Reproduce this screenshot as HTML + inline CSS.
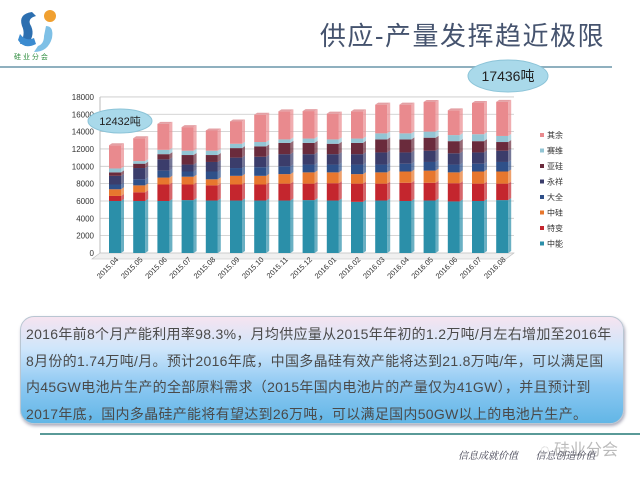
<!DOCTYPE html>
<html><head><meta charset="utf-8"><style>
body{margin:0;width:640px;height:479px;background:#fff;overflow:hidden;position:relative;font-family:"Liberation Sans","Noto Sans CJK SC",sans-serif}
.title{position:absolute;left:300px;top:16px;width:305px;text-align:right;font-size:26px;color:#45536e;letter-spacing:1.5px}
.hl{position:absolute;left:0;top:66px;width:612px;height:2px;background:#8fb0bf}
.box{position:absolute;left:20px;top:316px;width:604px;height:108px;border-radius:14px;border:1px solid #b9c6d2;background:linear-gradient(#f6e4f0 0%,#cfe6fb 30%,#8cc8f2 65%,#62b6e6 100%);box-shadow:1px 2px 3px #aab;font-size:14px;color:#4a4a4a;line-height:26.5px;padding:4px 0 0 5px;box-sizing:border-box;letter-spacing:0.3px;white-space:nowrap}
.bl{position:absolute;left:40px;top:433px;width:600px;height:2px;background:#5a9a98}
.ft{position:absolute;left:458px;top:447px;font-size:10px;color:#445;font-family:"Liberation Serif","Noto Serif CJK SC",serif;font-style:italic}
.wm{position:absolute;left:540px;top:436px;font-size:16px;color:#bbb}
</style></head><body>
<svg width="60" height="60" style="position:absolute;left:10px;top:4px">
<path d="M22 8 Q8 10 12 22 Q16 30 10 40 L18 40 Q26 30 20 20 Q18 14 26 12 Z" fill="#2c6fb0"/>
<path d="M8 36 Q14 46 26 40 L24 34 Q16 38 10 30 Z" fill="#3b8bd0"/>
<circle cx="40" cy="12" r="6" fill="#f0a030"/>
<path d="M36 22 Q44 22 42 34 Q38 48 24 48 L28 42 Q34 40 34 32 Z" fill="#7ec0e6"/>
<text x="4" y="55" font-size="7" fill="#2a8a3a">硅 业 分 会</text>
</svg>
<div class="title">供应-产量发挥趋近极限</div>
<div class="hl"></div>
<svg width="640" height="300" style="position:absolute;left:0;top:0" id="c"></svg>
<div class="box">2016年前8个月产能利用率98.3%，月均供应量从2015年年初的1.2万吨/月左右增加至2016年<br>8月份的1.74万吨/月。预计2016年底，中国多晶硅有效产能将达到21.8万吨/年，可以满足国<br>内45GW电池片生产的全部原料需求（2015年国内电池片的产量仅为41GW），并且预计到<br>2017年底，国内多晶硅产能将有望达到26万吨，可以满足国内50GW以上的电池片生产。</div>
<div class="bl"></div>
<div class="wm">◌ 硅业分会</div>
<div class="ft">信息成就价值 &nbsp; &nbsp; &nbsp; 信息创造价值</div>
<script>
var d=[[6000,6580,7350,7900,8900,9300,9750,12432],[6000,7000,7800,8500,9800,10300,10600,13240],[6000,7900,8700,9500,10800,11400,11900,14900],[6100,7900,8800,9400,10200,11300,11800,14520],[6050,7800,8500,9400,10500,11300,11800,14130],[6050,7900,8900,9800,11000,12100,12600,15170],[6050,7900,8900,9900,11100,12300,12800,15950],[6050,8000,9100,10000,11400,12700,13100,16340],[6100,8000,9300,10200,11400,12700,13200,16370],[6050,8050,9300,10200,11400,12600,13100,16070],[5900,8000,9100,10200,11400,12700,13200,16340],[6050,8000,9300,10200,11600,13100,13800,17110],[6000,8100,9400,10300,11600,13100,13800,17110],[6050,8100,9500,10500,11800,13300,14000,17420],[5950,8050,9300,10200,11500,12900,13600,16450],[6000,8000,9400,10300,11600,12900,13700,17300],[6100,8000,9400,10500,11800,12800,13500,17436]];
var col=["#2b8fa9","#c4262e","#e7772e","#2f5089","#3b3d6b","#6a2b3c","#93c5d4","#e98a8e"];
var lab=["2015.04","2015.05","2015.06","2015.07","2015.08","2015.09","2015.10","2015.11","2015.12","2016.01","2016.02","2016.03","2016.04","2016.05","2016.06","2016.07","2016.08"];
var names=["其余","赛维","亚硅","永祥","大全","中硅","特变","中能"];
var s="",Y=function(v){return 253-v*0.00867};
s+='<polygon points="100,253 514,253 506,259 92,259" fill="#f0f0f0" stroke="#bbb" stroke-width="0.6"/>';
for(var k=0;k<=9;k++){var y=Y(k*2000);s+='<line x1="100" y1="'+y+'" x2="514" y2="'+y+'" stroke="#c8c8c8" stroke-width="0.8"/><text x="94" y="'+(y+3)+'" font-size="8" text-anchor="end" fill="#333">'+(k*2000)+'</text>';}
s+='<line x1="100" y1="97" x2="100" y2="253" stroke="#bbb"/>';
for(var i=0;i<17;i++){var cx=115+i*24.2,x=cx-6,p=0;
for(var j=0;j<8;j++){var v=d[i][j],y1=Y(v),y0=Y(p);
s+='<rect x="'+x+'" y="'+y1+'" width="12" height="'+(y0-y1)+'" fill="'+col[j]+'"/>';
s+='<polygon points="'+(x+12)+','+y1+' '+(x+15)+','+(y1-2)+' '+(x+15)+','+(y0-2)+' '+(x+12)+','+y0+'" fill="'+col[j]+'" opacity="0.7"/>';p=v;}
var t=Y(p);s+='<polygon points="'+x+','+t+' '+(x+3)+','+(t-2)+' '+(x+15)+','+(t-2)+' '+(x+12)+','+t+'" fill="#e4a0a4"/>';
s+='<text transform="translate('+(cx+4)+',260) rotate(-45)" font-size="7.5" text-anchor="end" fill="#333">'+lab[i]+'</text>';}
for(var j=0;j<8;j++){var y=136+j*15.5;s+='<rect x="540" y="'+(y-3)+'" width="4" height="4" fill="'+col[7-j]+'"/><text x="547" y="'+(y+2)+'" font-size="8" fill="#333">'+names[j]+'</text>';}
s+='<ellipse cx="120" cy="121" rx="32" ry="12" fill="#a9d9ea" stroke="#8cc4d8"/><text x="120" y="125" font-size="11" text-anchor="middle" fill="#222">12432吨</text>';
s+='<ellipse cx="508" cy="76" rx="40" ry="16" fill="#a9d9ea" stroke="#8cc4d8"/><text x="508" y="81" font-size="14" text-anchor="middle" fill="#222">17436吨</text>';
document.getElementById("c").innerHTML=s;
</script>
</body></html>
